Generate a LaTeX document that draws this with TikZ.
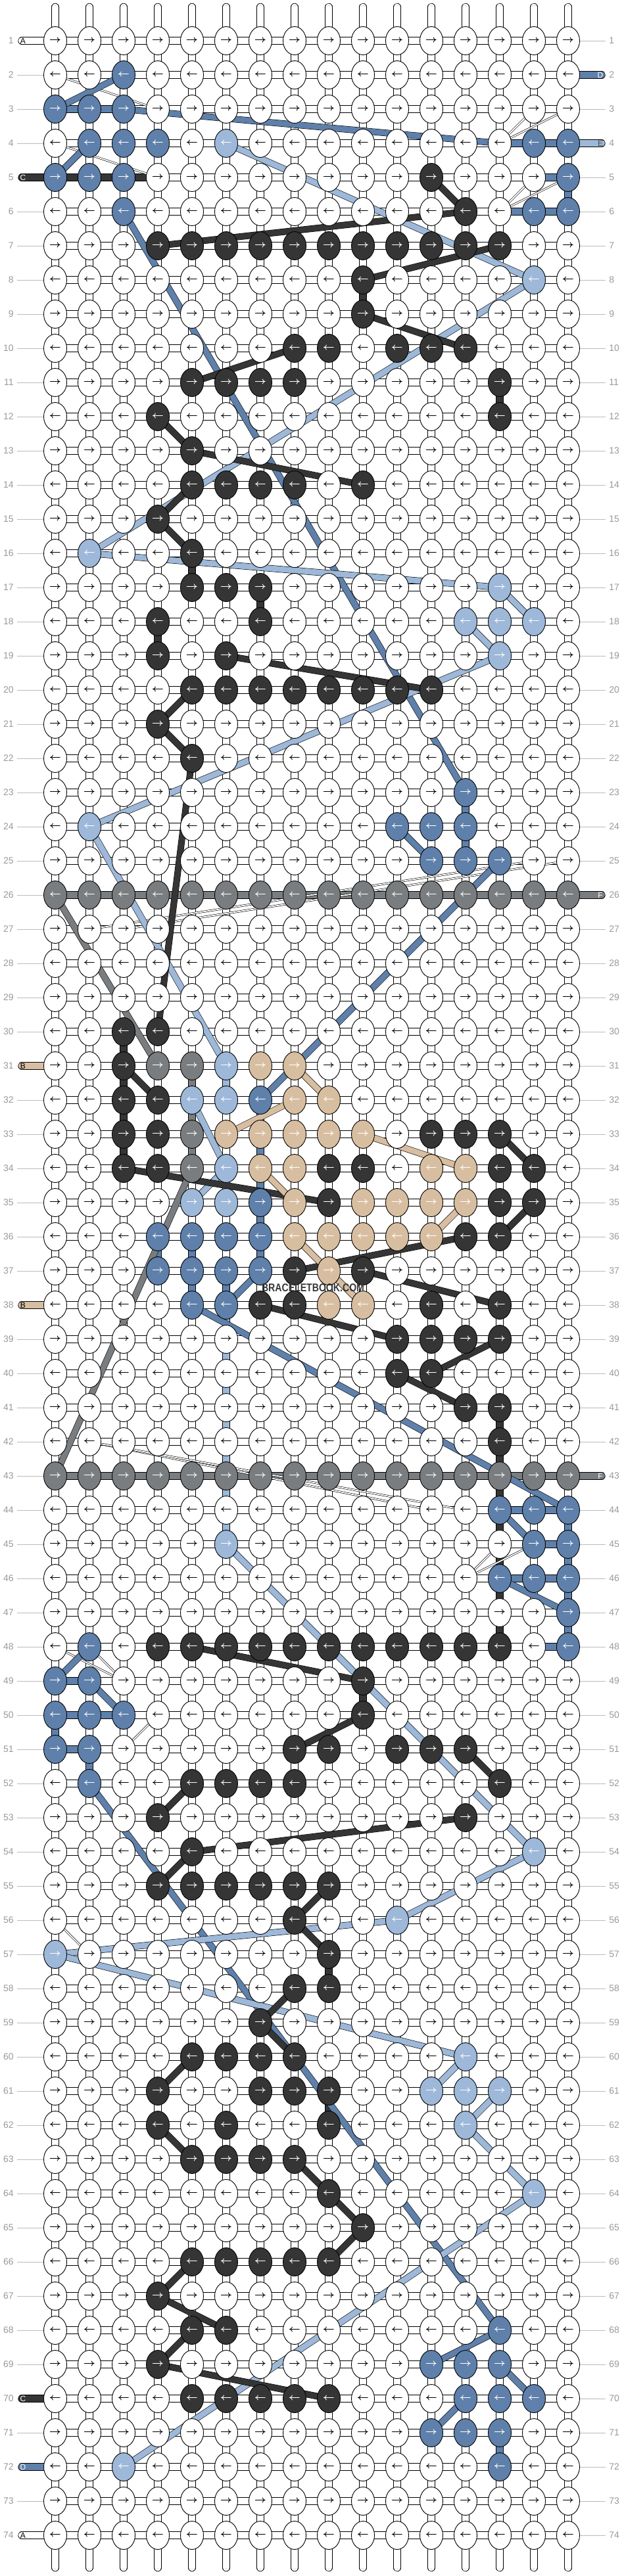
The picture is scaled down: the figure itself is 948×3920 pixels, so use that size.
\documentclass[tikz,border=0pt]{standalone}
\usepackage{fontspec}
\setsansfont{Liberation Sans}
\usetikzlibrary{shapes.geometric}
\pgfdeclarelayer{threads}
\pgfsetlayers{threads,main}
\definecolor{cW}{HTML}{FFFFFF}
\definecolor{cK}{HTML}{353535}
\definecolor{cD}{HTML}{5E80AA}
\definecolor{cE}{HTML}{9DB8D8}
\definecolor{cG}{HTML}{7A7D80}
\definecolor{cB}{HTML}{D8BEA0}
\definecolor{numgray}{HTML}{999999}
\definecolor{linegray}{HTML}{BBBBBB}

\begin{document}
\begin{tikzpicture}[x=0.5pt,y=-0.5pt,
        knot/.style={ellipse, draw, line width=0.45pt, fill=cW, minimum width=17.5pt, minimum height=21.5pt, inner sep=0pt, font=\fontsize{7}{7}\selectfont\boldmath},
        knotW/.style={},
        knotK/.style={fill=cK, text=white},
        knotD/.style={fill=cD, text=white},
        knotE/.style={fill=cE, text=white},
        knotG/.style={fill=cG, text=white},
        knotB/.style={fill=cB, text=white},
        conn/.style={draw=black, line width=0.35pt, double=#1, double distance=5pt},
        conn/.default=cW,
        seam/.style={draw=linegray, line width=0.25pt, double=cW, double distance=1.8pt},
        thr/.style={draw=black, line width=0.3pt, double=#1, double distance=4.4pt},
        wthr/.style={draw=black, line width=0.3pt, double=cW, double distance=0.9pt},
        rownum/.style={font=\sffamily\fontsize{7}{7}\selectfont, text=numgray, inner sep=0pt},
        tailtxt/.style={font=\sffamily\fontsize{6}{6}\selectfont, inner sep=0pt}]
    \useasboundingbox (0,0) rectangle (948,3920);
    % knot colours: row/first/last/colour
    \foreach \rw/\fa/\fb/\tn in {2/3/3/D, 3/1/3/D, 4/2/4/D, 4/6/6/E, 4/15/16/D, 5/1/3/D, 5/12/12/K, 5/16/16/D,
        6/3/3/D, 6/13/13/K, 6/15/16/D, 7/4/14/K, 8/10/10/K, 8/15/15/E, 9/10/10/K, 10/8/9/K, 10/11/13/K,
        11/5/8/K, 11/14/14/K, 12/4/4/K, 12/14/14/K, 13/5/5/K, 14/5/8/K, 14/10/10/K, 15/4/4/K, 16/2/2/E,
        16/5/5/K, 17/5/7/K, 17/14/14/E, 18/4/4/K, 18/7/7/K, 18/13/15/E, 19/4/4/K, 19/6/6/K, 19/14/14/E,
        20/5/12/K, 21/4/4/K, 22/5/5/K, 23/13/13/D, 24/2/2/E, 24/11/13/D, 25/12/14/D, 26/1/16/G,
        30/3/4/K, 31/3/3/K, 31/4/5/G, 31/6/6/E, 31/7/8/B, 32/3/4/K, 32/5/6/E, 32/7/7/D, 32/8/9/B,
        33/3/4/K, 33/5/5/G, 33/6/10/B, 33/12/14/K, 34/3/4/K, 34/5/5/G, 34/6/6/E, 34/7/8/B, 34/9/10/K,
        34/12/13/B, 34/14/15/K, 35/5/6/E, 35/7/7/D, 35/8/8/B, 35/9/9/K, 35/10/13/B, 35/14/15/K,
        36/4/7/D, 36/8/12/B, 36/13/14/K, 37/4/7/D, 37/8/8/K, 37/9/9/B, 37/10/10/K, 38/5/6/D, 38/7/8/K,
        38/9/10/B, 38/12/12/K, 38/14/14/K, 39/11/14/K, 40/11/12/K, 41/13/14/K, 42/14/14/K, 43/1/16/G,
        44/14/16/D, 45/6/6/E, 45/15/16/D, 46/14/16/D, 47/16/16/D, 48/2/2/D, 48/4/14/K, 48/16/16/D,
        49/1/2/D, 49/10/10/K, 50/1/3/D, 50/10/10/K, 51/1/2/D, 51/8/9/K, 51/11/13/K, 52/2/2/D, 52/5/8/K,
        52/14/14/K, 53/4/4/K, 53/13/13/K, 54/5/5/K, 54/15/15/E, 55/4/9/K, 56/8/8/K, 56/11/11/E,
        57/1/1/E, 57/9/9/K, 58/8/9/K, 59/7/7/K, 60/5/8/K, 60/13/13/E, 61/4/4/K, 61/7/9/K, 61/12/14/E,
        62/4/4/K, 62/6/6/K, 62/9/9/K, 62/13/13/E, 63/5/8/K, 64/9/9/K, 64/15/15/E, 65/10/10/K, 66/5/9/K,
        67/4/4/K, 68/5/6/K, 68/14/14/D, 69/4/4/K, 69/12/14/D, 70/5/9/K, 70/13/15/D, 71/12/14/D,
        72/3/3/E, 72/14/14/D}{
        \foreach \cl in {\fa,...,\fb}{\expandafter\xdef\csname kc-\rw-\cl\endcsname{\tn}}
    }
    \foreach \rw in {1,5,31,38,70,72,74}{\expandafter\xdef\csname lt-\rw\endcsname{1}}
    \foreach \rw in {2,4,26,43}{\expandafter\xdef\csname rt-\rw\endcsname{1}}
    % knots
    \foreach \rw in {1,...,74}{
        \foreach \cl in {1,...,16}{
            \edef\kc{\ifcsname kc-\rw-\cl\endcsname\csname kc-\rw-\cl\endcsname\else W\fi}
            \node[knot, knot\kc] (k\rw-\cl) at ({84+52*(\cl-1)},{62+52*(\rw-1)}) {\ifodd\rw$\rightarrow$\else$\leftarrow$\fi};
        }
    }
    % row numbers
    \foreach \rw in {1,...,74}{
        \node[rownum, anchor=east] (ln\rw) at (21,{62+52*(\rw-1)}) {\rw};
        \node[rownum, anchor=west] (rn\rw) at (926,{62+52*(\rw-1)}) {\rw};
        \ifcsname lt-\rw\endcsname\else
            \draw[linegray, line width=0.5pt] ([xshift=2.5pt]ln\rw.east) -- (k\rw-1);
        \fi
        \ifcsname rt-\rw\endcsname\else
            \draw[linegray, line width=0.5pt] (k\rw-16) -- ([xshift=-2.5pt]rn\rw.west);
        \fi
    }
    \node[font=\sffamily\bfseries\fontsize{8.5}{8.5}\selectfont, text=black!78] (mark) at (476,1960) {\scalebox{0.83}[1]{BRACELETBOOK.COM}};
    \begin{pgfonlayer}{threads}
        % plain grid
        \foreach \cl in {1,...,16}{
            \coordinate (top\cl) at ({84+52*(\cl-1)},10.5);
            \coordinate (bot\cl) at ({84+52*(\cl-1)},3907.5);
            \draw[conn, line cap=round] (top\cl) -- (bot\cl);
            \draw[seam, line cap=round] (top\cl) -- (bot\cl);
        }
        \foreach \rw in {1,...,74}{
            \draw[conn] (k\rw-1.center) -- (k\rw-16.center);
        }
        % ends
        \foreach \rw/\tn/\tc/\lc in {1/A/cW/black, 5/C/cK/white, 31/B/cB/black, 38/B/cB/black, 70/C/cK/white, 72/D/cD/white, 74/A/cW/black}{
            \coordinate (tl\rw) at (33,{62+52*(\rw-1)});
            \draw[conn=\tc, line cap=round] (tl\rw) -- (k\rw-1.center);
            \node[tailtxt, text=\lc] (tn\rw) at (35,{62+52*(\rw-1)}) {\tn};
        }
        \foreach \rw/\tn/\tc/\lc in {2/D/cD/white, 4/E/cE/black!70, 26/F/cG/white, 43/F/cG/white}{
            \coordinate (tr\rw) at (915,{62+52*(\rw-1)});
            \draw[conn=\tc, line cap=round] (k\rw-16.center) -- (tr\rw);
            \node[tailtxt, text=\lc] (tm\rw) at (913,{62+52*(\rw-1)}) {\tn};
        }
        % coloured pieces along rows and columns
        \foreach \rw/\fa/\fb/\tc in {3/1/3/cD, 4/14/16/cD, 5/1/4/cK, 5/15/16/cD, 6/14/16/cD, 26/1/16/cG, 43/1/16/cG,
            44/14/16/cD, 45/15/16/cD, 46/14/16/cD, 48/15/16/cD, 49/1/2/cD, 50/1/3/cD, 51/1/2/cD}{
            \draw[conn=\tc] (k\rw-\fa.center) -- (k\rw-\fb.center);
        }
        \foreach \cl/\fa/\fb/\tc in {16/5/6/cD, 10/8/9/cK, 14/11/12/cK, 5/16/17/cK, 7/17/18/cK, 4/18/19/cK,
            13/23/25/cD, 3/30/34/cK, 5/31/34/cG, 6/31/32/cE, 7/32/37/cD, 4/36/37/cD, 5/36/38/cD, 6/37/38/cD,
            6/38/45/cE, 14/41/48/cK, 16/44/48/cD, 10/49/50/cK, 1/50/51/cD, 2/51/52/cD, 9/57/58/cK,
            9/61/62/cK, 14/71/72/cD}{
            \draw[conn=\tc] (k\fa-\cl.center) -- (k\fb-\cl.center);
        }
        % white threads
        \foreach \ra/\ca/\rb/\cb in {2/1/3/4, 4/1/5/4, 3/15/4/14, 3/16/4/14, 5/15/6/14, 5/16/6/14,
            25/15/27/2, 25/16/27/3, 42/2/44/12, 42/2/44/13, 45/14/46/13, 45/15/46/13, 48/1/49/3,
            48/2/49/3, 50/4/51/3, 56/1/57/2}{
            \draw[wthr] (k\ra-\ca.center) -- (k\rb-\cb.center);
        }
        % coloured threads
        \foreach \ra/\ca/\rb/\cb/\tc in {2/3/3/1/cD, 3/3/4/14/cD, 4/2/5/1/cD, 6/3/23/13/cD, 24/11/25/12/cD,
            25/14/32/7/cD, 37/7/38/6/cD, 38/5/44/16/cD, 44/14/45/15/cD, 46/14/47/16/cD, 48/2/49/1/cD,
            49/2/50/3/cD, 52/2/68/14/cD, 68/14/69/12/cD, 69/14/70/15/cD, 70/13/71/12/cD,
            4/6/8/15/cE, 8/15/16/2/cE, 16/2/17/14/cE, 17/14/18/15/cE, 18/13/19/14/cE, 19/14/24/2/cE,
            24/2/31/6/cE, 32/5/34/6/cE, 34/6/35/5/cE, 45/6/54/15/cE, 54/15/56/11/cE, 56/11/57/1/cE,
            57/1/60/13/cE, 60/13/61/12/cE, 61/14/62/13/cE, 62/13/64/15/cE, 64/15/72/3/cE,
            5/12/6/13/cK, 6/13/7/4/cK, 7/14/8/10/cK, 9/10/10/13/cK, 10/8/11/5/cK, 12/4/13/5/cK,
            13/5/14/10/cK, 14/5/15/4/cK, 15/4/16/5/cK, 19/6/20/12/cK, 20/5/21/4/cK, 21/4/22/5/cK,
            22/5/30/4/cK, 31/3/32/4/cK, 33/14/34/15/cK, 34/3/35/9/cK, 35/15/36/14/cK, 36/13/37/8/cK,
            37/10/38/14/cK, 38/7/39/11/cK, 39/14/40/12/cK, 40/11/41/13/cK, 48/5/49/10/cK, 50/10/51/8/cK,
            51/13/52/14/cK, 52/5/53/4/cK, 53/13/54/5/cK, 54/5/55/4/cK, 55/9/56/8/cK, 56/8/57/9/cK,
            58/8/59/7/cK, 59/7/60/8/cK, 60/5/61/4/cK, 62/4/63/5/cK, 63/8/64/9/cK, 64/9/65/10/cK,
            65/10/66/9/cK, 66/5/67/4/cK, 67/4/68/6/cK, 68/5/69/4/cK, 69/4/70/9/cK,
            26/1/31/4/cG, 34/5/43/1/cG,
            31/8/32/9/cB, 32/8/33/6/cB, 33/10/34/13/cB, 34/7/35/8/cB, 35/13/36/12/cB, 36/8/38/10/cB}{
            \draw[thr=\tc] (k\ra-\ca.center) -- (k\rb-\cb.center);
        }
    \end{pgfonlayer}
\end{tikzpicture}
\end{document}
